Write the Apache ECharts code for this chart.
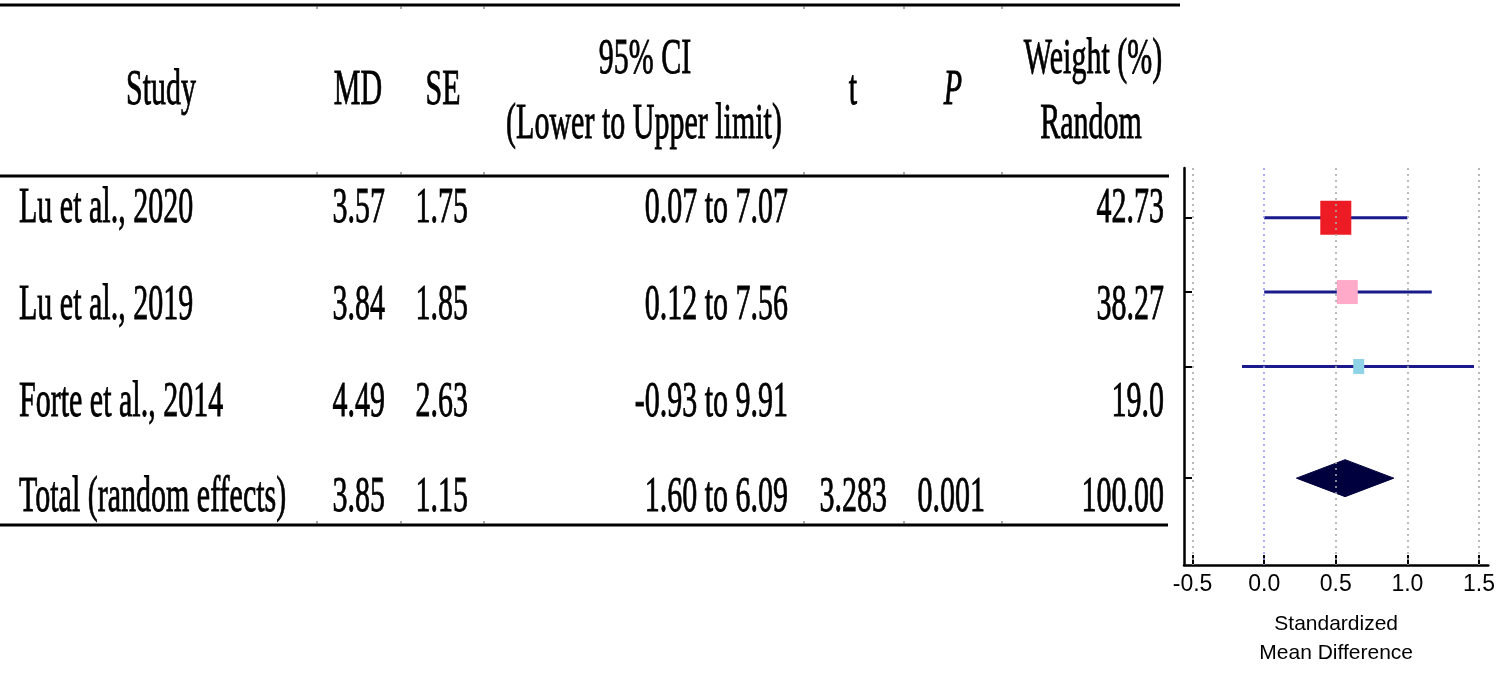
<!DOCTYPE html>
<html>
<head>
<meta charset="utf-8">
<script src="https://cdn.jsdelivr.net/npm/echarts@6/dist/echarts.min.js"></script>
<style>
html,body{margin:0;padding:0;background:#fff;}
#main{width:1498px;height:673px;}
</style>
</head>
<body>
<div id="main"></div>
<script>
// ---- Data ----
const studies = ['Lu et al., 2020', 'Lu et al., 2019', 'Forte et al., 2014', 'Total (random effects)'];
const mdValues = ['3.57', '3.84', '4.49', '3.85'];
const seValues = ['1.75', '1.85', '2.63', '1.15'];
const ciText = ['0.07 to 7.07', '0.12 to 7.56', '-0.93 to 9.91', '1.60 to 6.09'];
const tValues = ['', '', '', '3.283'];
const pValues = ['', '', '', '0.001'];
const weights = ['42.73', '38.27', '19.0', '100.00'];
// standardized mean difference
const smd = [0.50, 0.58, 0.66, 0.565];
const smdLower = [0.0, 0.0, -0.155, 0.225];
const smdUpper = [1.0, 1.17, 1.465, 0.905];
const xTicks = [-0.5, 0.0, 0.5, 1.0, 1.5];
const headers = ['Study', 'MD', 'SE', '95% CI', '(Lower to Upper limit)', 't', 'P', 'Weight (%)', 'Random'];

// ---- Layout / style (not data) ----
const ROW_POS = [2, 5, 8, 12.5];          // y positions on plot axis
const TABLE_ROW_Y = [208, 305, 402, 497]; // text rows in table
const SQUARE_SIZE = [[31, 34], [21, 24], [11, 15]];
const SQUARE_COLOR = ['#ED1C24', '#FFAAC9', '#8FD3E6'];
const LINE_COLOR = '#1A1A8C';
const SY = 1.72;
const FONT = '30px "Liberation Serif", "Times New Roman", serif';
const IFONT = 'italic 30px "Liberation Serif", "Times New Roman", serif';

function txt(s, x, y, align, italic) {
  return {
    type: 'text', x: x, y: y, scaleY: SY, silent: true,
    style: {
      text: s, font: italic ? IFONT : FONT, fill: '#000',
      stroke: '#000', lineWidth: 0.5,
      textAlign: align, align: align,
      textVerticalAlign: 'middle', verticalAlign: 'middle'
    }
  };
}
function hline(x1, x2, y, w) {
  return { type: 'line', silent: true, shape: { x1: x1, y1: y, x2: x2, y2: y }, style: { stroke: '#000', lineWidth: w } };
}
function notch(x, y1, y2) {
  return { type: 'line', silent: true, shape: { x1: x, y1: y1, x2: x, y2: y2 }, style: { stroke: '#555', lineWidth: 1 } };
}

const graphics = [];
graphics.push(hline(0, 1180, 5, 3));
graphics.push(hline(0, 1169, 176, 3));
graphics.push(hline(0, 1168, 525, 3));
[317, 401, 484, 804, 904, 1002].forEach(function (x) {
  graphics.push(notch(x, 6, 9));
  graphics.push(notch(x, 172, 175));
  graphics.push(notch(x, 521, 524));
});
// headers
graphics.push(txt(headers[0], 161, 90, 'center'));
graphics.push(txt(headers[1], 358, 90, 'center'));
graphics.push(txt(headers[2], 443, 90, 'center'));
graphics.push(txt(headers[3], 645, 59, 'center'));
graphics.push(txt(headers[4], 644, 124, 'center'));
graphics.push(txt(headers[5], 853, 90, 'center'));
graphics.push(txt(headers[6], 953, 90, 'center', true));
graphics.push(txt(headers[7], 1093, 59, 'center'));
graphics.push(txt(headers[8], 1091, 124, 'center'));
// rows
studies.forEach(function (s, i) {
  const y = TABLE_ROW_Y[i];
  graphics.push(txt(s, 19, y, 'left'));
  graphics.push(txt(mdValues[i], 385, y, 'right'));
  graphics.push(txt(seValues[i], 468, y, 'right'));
  graphics.push(txt(ciText[i], 788, y, 'right'));
  if (tValues[i]) graphics.push(txt(tValues[i], 887, y, 'right'));
  if (pValues[i]) graphics.push(txt(pValues[i], 985, y, 'right'));
  graphics.push(txt(weights[i], 1164, y, 'right'));
});

const nStudies = 3;
const ciData = [];
const squareData = [];
for (let i = 0; i < nStudies; i++) {
  ciData.push([smdLower[i], smdUpper[i], ROW_POS[i]]);
  squareData.push({
    value: [smd[i], ROW_POS[i]],
    symbolSize: SQUARE_SIZE[i],
    itemStyle: { color: SQUARE_COLOR[i] }
  });
}
const diamondData = [[smdLower[3], smd[3], smdUpper[3], ROW_POS[3]]];

const gridLineData = xTicks.map(function (v) {
  return {
    xAxis: v,
    lineStyle: { color: v === 0 ? '#9A9AF0' : '#A8A8A8', type: [2, 4], width: 1.6 }
  };
});

const chart = echarts.init(document.getElementById('main'), null, { renderer: 'canvas' });
chart.setOption({
  backgroundColor: '#fff',
  animation: false,
  grid: { left: 1184, right: 6, top: 168, bottom: 106, containLabel: false },
  xAxis: {
    type: 'value', min: -0.56, max: 1.565,
    axisLine: { onZero: false, lineStyle: { color: '#000', width: 2.5 } },
    axisTick: { inside: true, length: 10, customValues: xTicks, lineStyle: { color: '#000', width: 2 } },
    axisLabel: {
      customValues: xTicks, margin: 8, color: '#000', fontSize: 23,
      fontFamily: '"Liberation Sans", Arial, sans-serif',
      formatter: function (v) { return v.toFixed(1); }
    },
    splitLine: { show: false },
    name: 'Standardized\nMean Difference', nameLocation: 'middle', nameGap: 45,
    nameTextStyle: { color: '#000', fontSize: 21, lineHeight: 29, fontFamily: '"Liberation Sans", Arial, sans-serif' }
  },
  yAxis: {
    type: 'value', inverse: true, min: 0, max: 16,
    axisLine: { show: true, onZero: false, lineStyle: { color: '#000', width: 2.5 } },
    axisTick: { show: true, inside: true, length: 8, customValues: ROW_POS, lineStyle: { color: '#000', width: 2 } },
    axisLabel: { show: false },
    splitLine: { show: false }
  },
  graphic: graphics,
  series: [
    {
      type: 'line', data: [], silent: true, z: 1,
      markLine: { silent: true, symbol: ['none', 'none'], label: { show: false }, data: gridLineData, animation: false }
    },
    {
      type: 'custom', z: 3,
      encode: { x: [0, 1], y: 2 },
      data: ciData,
      renderItem: function (params, api) {
        const y = api.value(2);
        const p1 = api.coord([api.value(0), y]);
        const p2 = api.coord([api.value(1), y]);
        return { type: 'line', shape: { x1: p1[0], y1: p1[1], x2: p2[0], y2: p2[1] }, style: { stroke: LINE_COLOR, lineWidth: 3 } };
      }
    },
    {
      type: 'scatter', z: 4, symbol: 'rect', data: squareData,
      itemStyle: { opacity: 1 }
    },
    {
      type: 'custom', z: 4,
      encode: { x: [0, 1, 2], y: 3 },
      data: diamondData,
      renderItem: function (params, api) {
        const y = api.value(3);
        const l = api.coord([api.value(0), y]);
        const c = api.coord([api.value(1), y]);
        const r = api.coord([api.value(2), y]);
        const h = 18.5;
        return {
          type: 'polygon',
          shape: { points: [[l[0], l[1]], [c[0], c[1] - h], [r[0], r[1]], [c[0], c[1] + h]] },
          style: { fill: '#00003F', stroke: '#00003F', lineWidth: 1 }
        };
      }
    }
  ]
});
</script>
</body>
</html>
